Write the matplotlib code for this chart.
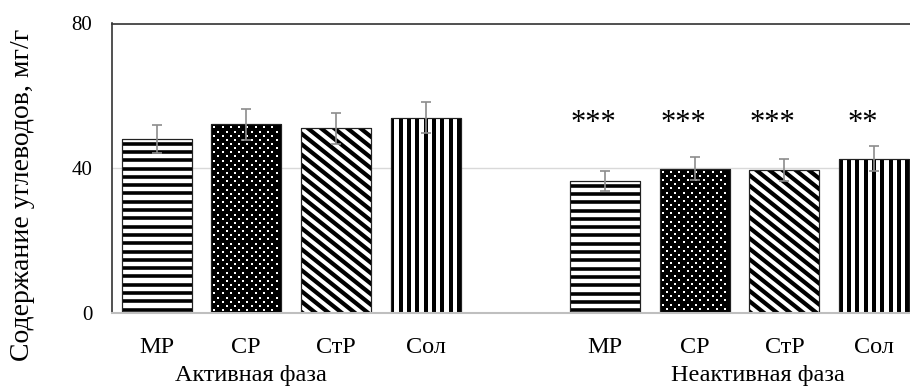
import numpy as np
import matplotlib
matplotlib.use("Agg")
import matplotlib.pyplot as plt
from matplotlib.collections import LineCollection
from matplotlib.lines import Line2D
from matplotlib.transforms import IdentityTransform, offset_copy

# ---------------- data ----------------
categories = ["МР", "СР", "СтР", "Сол"]
groups = ["Активная фаза", "Неактивная фаза"]
active_vals = [48.0, 52.1, 51.0, 53.9]
active_err = [3.9, 4.2, 4.2, 4.3]
inactive_vals = [36.4, 39.8, 39.4, 42.6]
inactive_err = [2.8, 3.2, 3.1, 3.4]
stars = ["***", "***", "***", "**"]
y_ticks = [0, 40, 80]
ylabel = "Содержание углеводов, мг/г"
patterns = ["h", "dots", "diag", "v"]

# ---------------- figure ----------------
plt.rcParams['font.family'] = ['Liberation Serif', 'DejaVu Serif']
DPI = 100
fig = plt.figure(figsize=(9.10, 3.88), dpi=DPI)
W, H = 910, 388
ax_left, ax_right, ax_top, ax_bottom = 111.7, 919.0, 23.5, 312.7
ax = fig.add_axes([ax_left / W, 1 - ax_bottom / H, (ax_right - ax_left) / W, (ax_bottom - ax_top) / H])

n = len(categories)
pos_active = np.arange(n)
pos_inactive = np.arange(n) + n + 1
positions = np.concatenate([pos_active, pos_inactive])
values = active_vals + inactive_vals
errs = active_err + inactive_err

ax.set_xlim(-0.5, positions[-1] + 0.5)
ax.set_ylim(0, 80)
ax.set_autoscale_on(False)

bar_w = 0.78
bars = []
for i, (p, v) in enumerate(zip(positions, values)):
    kind = patterns[i % n]
    fc = 'black' if kind == 'dots' else 'white'
    b = ax.bar(p, v, width=bar_w, color=fc, edgecolor='#222222', linewidth=0.8, zorder=2)[0]
    bars.append((b, kind))

ax.errorbar(positions, values, yerr=errs, fmt='none', ecolor='#8c8c8c',
            elinewidth=1.2, capsize=3.8, capthick=1.2, zorder=5)

to_pt = 72.0 / DPI


def add_pattern(bar, kind):
    (x0, y0), (x1, y1) = ax.transData.transform(
        [(bar.get_x(), bar.get_y()), (bar.get_x() + bar.get_width(), bar.get_y() + bar.get_height())])
    segs = []
    lw = 3.6
    if kind == 'h':
        for y in np.arange(y1 - 4.5, y0 - 6, -8.3):
            segs.append([(x0 - 5, y), (x1 + 5, y)])
    elif kind == 'v':
        for x in np.arange(x0 + 1.5, x1 + 6, 8.35):
            segs.append([(x, y0 - 5), (x, y1 + 5)])
        lw = 4.0
    elif kind == 'diag':
        slope = 0.8
        wdt = x1 - x0
        for c in np.arange(y0 - 20, y1 + slope * wdt + 20, 10.5):
            segs.append([(x0 - 5, c + slope * 5), (x1 + 5, c - slope * (wdt + 5))])
        lw = 4.2
    if kind == 'dots':
        xs, ys = [], []
        row = 0
        for y in np.arange(y1 - 3, y0, -4.15):
            off = 0 if row % 2 == 0 else 4.15
            for x in np.arange(x0 + 3 + off, x1 - 1, 8.3):
                xs.append(x)
                ys.append(y)
            row += 1
        ln = Line2D(xs, ys, linestyle='none', marker='s', markersize=1.5,
                    markerfacecolor='white', markeredgewidth=0, transform=IdentityTransform(), zorder=2.5)
        ln.set_clip_path(bar.get_path(), bar.get_transform())
        ax.add_artist(ln)
        return
    lc = LineCollection(segs, colors='black', linewidths=lw * to_pt, transform=IdentityTransform(),
                        zorder=2.5, capstyle='butt')
    lc.set_clip_path(bar.get_path(), bar.get_transform())
    ax.add_collection(lc, autolim=False)


for b, kind in bars:
    add_pattern(b, kind)

# redraw outlines on top
for b, kind in bars:
    ax.bar(b.get_x() + b.get_width() / 2, b.get_height(), width=b.get_width(), fill=False,
           edgecolor='#222222', linewidth=0.8, zorder=3)

# spines / grid
for s in ['top', 'left']:
    ax.spines[s].set_color('#333333')
    ax.spines[s].set_linewidth(1.2)
ax.spines['right'].set_visible(False)
ax.spines['bottom'].set_color('#bfbfbf')
ax.spines['bottom'].set_linewidth(1.5)
ax.spines['bottom'].set_zorder(4)
ax.yaxis.grid(True, color='#d9d9d9', linewidth=1.0, zorder=0)
ax.set_axisbelow(True)

ax.set_yticks(y_ticks)
ax.set_yticklabels([str(t) for t in y_ticks], fontsize=15)
ax.tick_params(axis='y', length=0, pad=14)
ax.set_xticks([])

xtr = ax.get_xaxis_transform()
cat_tr = offset_copy(xtr, fig=fig, x=0, y=-(353 - ax_bottom), units='dots')
for p, lab in zip(positions, categories * 2):
    ax.text(p, 0, lab, transform=cat_tr, ha='center', va='baseline', fontsize=17.5)

grp_tr = offset_copy(xtr, fig=fig, x=0, y=-(381 - ax_bottom), units='dots')
ax.text(pos_active[0] + 1.05, 0, groups[0], transform=grp_tr, ha='center', va='baseline', fontsize=17.5)
ax.text(pos_inactive[0] + 1.70, 0, groups[1], transform=grp_tr, ha='center', va='baseline', fontsize=17.5)

star_base = (ax_bottom - 131.0) / (ax_bottom - ax_top) * 80
for p, s in zip(pos_inactive, stars):
    ax.text(p - 0.13, star_base, s, ha='center', va='baseline', fontsize=22, zorder=6)

fig.text(23 / W, 1 - 195 / H, ylabel, rotation=90, ha='center', va='center', fontsize=20)

fig.savefig("out.png", dpi=DPI)
